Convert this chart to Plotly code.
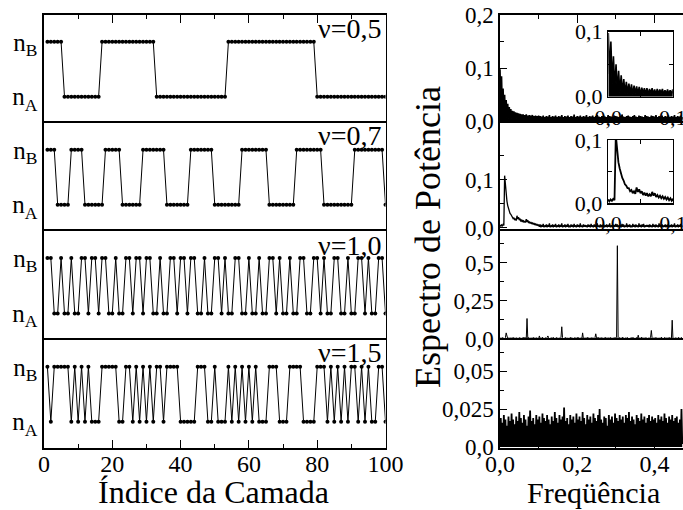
import plotly.graph_objects as go

W, H = 683, 510
FONT = "Liberation Serif, Times New Roman, DejaVu Serif, serif"

# ---------------- data: layer sequences (1 = n_B, 0 = n_A) ----------------
layer_index = list(range(1, 101))

seq_nu05 = [1,1,1,1,1,0,0,0,0,0,
            0,0,0,0,0,0,1,1,1,1,
            1,1,1,1,1,1,1,1,1,1,
            1,1,0,0,0,0,0,0,0,0,
            0,0,0,0,0,0,0,0,0,0,
            0,0,0,1,1,1,1,1,1,1,
            1,1,1,1,1,1,1,1,1,1,
            1,1,1,1,1,1,1,1,1,0,
            0,0,0,0,0,0,0,0,0,0,
            0,0,0,0,0,0,0,0,0,0]

seq_nu07 = [1,1,1,0,0,0,0,1,1,1,
            1,0,0,0,0,0,0,1,1,1,
            1,1,0,0,0,0,0,0,1,1,
            1,1,1,1,1,0,0,0,0,0,
            0,0,1,1,1,1,1,1,1,0,
            0,0,0,0,0,0,0,1,1,1,
            1,1,1,1,1,0,0,0,0,0,
            0,0,0,1,1,1,1,1,1,1,
            1,0,0,0,0,0,0,0,0,0,
            1,1,1,1,1,1,1,1,1,0]

seq_nu10 = [1,1,0,0,1,0,0,1,0,0,
            1,1,0,1,1,0,1,1,0,0,
            1,0,0,1,1,0,1,1,0,1,
            1,0,0,1,0,0,1,1,0,1,
            1,0,1,1,0,0,1,0,0,1,
            1,0,1,0,0,1,1,0,0,1,
            0,0,1,0,0,1,1,0,1,0,
            0,1,0,0,1,1,0,0,1,1,
            0,1,0,0,1,1,0,0,1,0,
            0,1,1,0,1,0,0,1,1,0]

seq_nu15 = [1,0,1,1,1,1,1,0,1,0,
            1,0,1,0,0,0,1,1,1,1,
            1,0,0,1,1,0,1,0,1,0,
            1,0,1,1,0,1,1,1,1,0,
            0,0,0,0,1,1,1,0,0,1,
            0,0,0,1,0,1,0,1,0,1,
            0,1,0,0,0,1,1,1,0,0,
            0,1,1,1,1,0,0,0,0,1,
            1,1,0,1,0,1,0,1,0,1,
            1,0,1,0,1,0,0,1,1,0]

nu_labels = ["ν=0,5", "ν=0,7", "ν=1,0", "ν=1,5"]
layer_ticks = [0, 20, 40, 60, 80, 100]

# ---------------- data: power spectra (frequency step 0.002) ----------------
freq_step = 0.002

spec_nu05 = [
    0.098, 0.035, 0.085, 0.020, 0.062, 0.012, 0.050, 0.008, 0.040, 0.006,
    0.033, 0.005, 0.027, 0.004, 0.023, 0.005, 0.020, 0.004, 0.019, 0.003,
    0.017, 0.005, 0.016, 0.004, 0.015, 0.003, 0.014, 0.005, 0.013, 0.004,
    0.013, 0.003, 0.012, 0.005, 0.013, 0.004, 0.011, 0.003, 0.012, 0.004,
    0.011, 0.005, 0.012, 0.003, 0.010, 0.004, 0.011, 0.003, 0.010, 0.004,
    0.011,
    0.003, 0.010, 0.002, 0.009, 0.004, 0.011, 0.003, 0.008, 0.002, 0.010, 0.004, 0.009, 0.003, 0.012, 0.002, 0.008, 0.003, 0.010, 0.004, 0.009,
    0.002, 0.011, 0.003, 0.008, 0.004, 0.010, 0.002, 0.009, 0.003, 0.012, 0.004, 0.008, 0.002, 0.010, 0.003, 0.009, 0.004, 0.011, 0.002, 0.008,
    0.003, 0.010, 0.004, 0.009, 0.002, 0.013, 0.003, 0.008, 0.004, 0.010, 0.002, 0.009, 0.003, 0.011, 0.004, 0.008, 0.002, 0.010, 0.003, 0.009,
    0.004, 0.012, 0.002, 0.008, 0.003, 0.010, 0.004, 0.009, 0.002, 0.011, 0.003, 0.008, 0.004, 0.010, 0.002, 0.012, 0.003, 0.009, 0.004, 0.008,
    0.002, 0.010, 0.003, 0.011, 0.004, 0.009, 0.002, 0.008, 0.003, 0.012, 0.004, 0.010, 0.002, 0.009, 0.003, 0.008, 0.004, 0.011, 0.002, 0.010,
    0.003, 0.009, 0.004, 0.008, 0.002, 0.010, 0.003, 0.013, 0.004, 0.009, 0.002, 0.008, 0.003, 0.010, 0.004, 0.011, 0.002, 0.009, 0.003, 0.008,
    0.004, 0.010, 0.002, 0.012, 0.003, 0.009, 0.004, 0.008, 0.002, 0.011, 0.003, 0.010, 0.004, 0.009, 0.002, 0.008, 0.003, 0.012, 0.004, 0.010,
    0.002, 0.009, 0.003, 0.008, 0.004, 0.011, 0.002, 0.010, 0.003, 0.009, 0.004, 0.012, 0.002, 0.008, 0.003, 0.010, 0.004, 0.009, 0.002, 0.011,
    0.003, 0.008, 0.004, 0.010, 0.002, 0.009, 0.003, 0.011, 0.004, 0.008, 0.002, 0.010, 0.003, 0.009, 0.004, 0.012, 0.002, 0.008, 0.003, 0.010,
    0.004, 0.009, 0.002, 0.011, 0.003, 0.008,
]

spec_nu07 = [
    0.006, 0.003, 0.006, 0.004, 0.007, 0.005, 0.108, 0.085, 0.065, 0.055,
    0.046, 0.040, 0.036, 0.030, 0.028, 0.024, 0.024, 0.019, 0.021, 0.016,
    0.019, 0.015, 0.025, 0.018, 0.022, 0.016, 0.019, 0.013, 0.017, 0.012,
    0.016, 0.011, 0.014, 0.011, 0.018, 0.012, 0.016, 0.010, 0.013, 0.009,
    0.012, 0.008, 0.011, 0.007, 0.010, 0.006, 0.009, 0.005, 0.008, 0.004,
    0.007,
    0.002, 0.007, 0.001, 0.006, 0.002, 0.008, 0.001, 0.005, 0.002, 0.007, 0.001, 0.006, 0.002, 0.009, 0.001, 0.005, 0.002, 0.007, 0.001, 0.006,
    0.002, 0.008, 0.001, 0.005, 0.002, 0.007, 0.001, 0.006, 0.002, 0.009, 0.001, 0.005, 0.002, 0.007, 0.001, 0.006, 0.002, 0.008, 0.001, 0.005,
    0.001, 0.007, 0.002, 0.006, 0.001, 0.008, 0.002, 0.005, 0.001, 0.007, 0.002, 0.006, 0.001, 0.009, 0.002, 0.005, 0.001, 0.007, 0.002, 0.006,
    0.002, 0.005, 0.001, 0.007, 0.002, 0.006, 0.001, 0.008, 0.002, 0.005, 0.001, 0.007, 0.002, 0.006, 0.001, 0.009, 0.002, 0.005, 0.001, 0.007,
    0.001, 0.006, 0.002, 0.008, 0.001, 0.005, 0.002, 0.007, 0.001, 0.006, 0.002, 0.009, 0.001, 0.005, 0.002, 0.007, 0.001, 0.006, 0.002, 0.008,
    0.002, 0.007, 0.001, 0.005, 0.002, 0.006, 0.001, 0.008, 0.002, 0.007, 0.001, 0.005, 0.002, 0.009, 0.001, 0.006, 0.002, 0.007, 0.001, 0.005,
    0.001, 0.008, 0.002, 0.006, 0.001, 0.007, 0.002, 0.005, 0.001, 0.009, 0.002, 0.006, 0.001, 0.007, 0.002, 0.008, 0.001, 0.005, 0.002, 0.006,
    0.002, 0.006, 0.001, 0.007, 0.002, 0.005, 0.001, 0.008, 0.002, 0.006, 0.001, 0.007, 0.002, 0.005, 0.001, 0.009, 0.002, 0.006, 0.001, 0.007,
    0.001, 0.005, 0.002, 0.007, 0.001, 0.006, 0.002, 0.008, 0.001, 0.005, 0.002, 0.007, 0.001, 0.006, 0.002, 0.009, 0.001, 0.005, 0.002, 0.007,
    0.001, 0.006, 0.002, 0.008, 0.001, 0.005,
]

spec_nu10_noise = [
    0.002, 0.008, 0.001, 0.010, 0.003, 0.007, 0.002, 0.009, 0.001, 0.012, 0.002, 0.006, 0.003, 0.009, 0.001, 0.008, 0.002, 0.011, 0.001, 0.007,
    0.003, 0.009, 0.001, 0.006, 0.002, 0.010, 0.001, 0.008, 0.003, 0.007, 0.002, 0.012, 0.001, 0.009, 0.002, 0.006, 0.003, 0.010, 0.001, 0.008,
    0.002, 0.007, 0.001, 0.011, 0.003, 0.008, 0.002, 0.009, 0.001, 0.006, 0.002, 0.010, 0.003, 0.008, 0.001, 0.012, 0.002, 0.007, 0.001, 0.009,
    0.003, 0.010, 0.002, 0.008, 0.001, 0.006, 0.002, 0.009, 0.003, 0.011, 0.001, 0.007, 0.002, 0.010, 0.001, 0.008, 0.003, 0.006, 0.002, 0.012,
    0.001, 0.009, 0.002, 0.007, 0.003, 0.010, 0.001, 0.008, 0.002, 0.006, 0.001, 0.011, 0.003, 0.009, 0.002, 0.007, 0.001, 0.010, 0.002, 0.008,
    0.003, 0.012, 0.001, 0.006, 0.002, 0.009, 0.001, 0.010, 0.003, 0.007, 0.002, 0.008, 0.001, 0.011, 0.002, 0.009, 0.003, 0.006, 0.001, 0.010,
    0.002, 0.008, 0.001, 0.009, 0.003, 0.007, 0.002, 0.012, 0.001, 0.008, 0.002, 0.010, 0.003, 0.006, 0.001, 0.009, 0.002, 0.011, 0.001, 0.007,
    0.003, 0.009, 0.002, 0.010, 0.001, 0.008, 0.002, 0.006, 0.003, 0.011, 0.001, 0.009, 0.002, 0.007, 0.001, 0.010, 0.003, 0.008, 0.002, 0.012,
    0.001, 0.007, 0.002, 0.009, 0.003, 0.010, 0.001, 0.006, 0.002, 0.008, 0.001, 0.011, 0.003, 0.009, 0.002, 0.007, 0.001, 0.010, 0.002, 0.008,
    0.003, 0.006, 0.001, 0.012, 0.002, 0.009, 0.001, 0.008, 0.003, 0.010, 0.002, 0.007, 0.001, 0.009, 0.002, 0.011, 0.003, 0.006, 0.001, 0.008,
    0.002, 0.010, 0.001, 0.009, 0.003, 0.007, 0.002, 0.008, 0.001, 0.012, 0.002, 0.006, 0.003, 0.010, 0.001, 0.009, 0.002, 0.007, 0.001, 0.011,
    0.003, 0.008, 0.002, 0.010, 0.001, 0.006, 0.002, 0.009, 0.003, 0.007, 0.001, 0.011, 0.002, 0.008, 0.001, 0.010, 0.003,
]
peaks_nu10_freq = [0.016, 0.070, 0.102, 0.124, 0.160, 0.214, 0.248, 0.304, 0.358, 0.392, 0.446]
peaks_nu10_height = [0.040, 0.134, 0.020, 0.020, 0.080, 0.040, 0.034, 0.610, 0.025, 0.056, 0.123]

spec_nu15 = [
    0.002, 0.019, 0.001, 0.016, 0.003, 0.021, 0.001, 0.018, 0.002, 0.014, 0.001, 0.020, 0.003, 0.017, 0.001, 0.022, 0.002, 0.018, 0.001, 0.015,
    0.003, 0.020, 0.001, 0.017, 0.002, 0.023, 0.001, 0.019, 0.003, 0.016, 0.001, 0.021, 0.002, 0.018, 0.001, 0.014, 0.003, 0.020, 0.001, 0.024,
    0.002, 0.017, 0.001, 0.019, 0.003, 0.015, 0.001, 0.021, 0.002, 0.018, 0.001, 0.020, 0.003, 0.016, 0.001, 0.022, 0.002, 0.019, 0.001, 0.017,
    0.003, 0.021, 0.001, 0.018, 0.002, 0.015, 0.001, 0.020, 0.003, 0.017, 0.001, 0.023, 0.002, 0.019, 0.001, 0.016, 0.003, 0.021, 0.001, 0.018,
    0.002, 0.020, 0.001, 0.026, 0.003, 0.017, 0.001, 0.019, 0.002, 0.015, 0.001, 0.021, 0.003, 0.018, 0.001, 0.020, 0.002, 0.016, 0.001, 0.022,
    0.003, 0.018, 0.001, 0.020, 0.002, 0.017, 0.001, 0.023, 0.003, 0.019, 0.001, 0.015, 0.002, 0.021, 0.001, 0.018, 0.003, 0.020, 0.001, 0.016,
    0.002, 0.022, 0.001, 0.019, 0.003, 0.017, 0.001, 0.021, 0.002, 0.025, 0.001, 0.018, 0.003, 0.016, 0.001, 0.020, 0.002, 0.019, 0.001, 0.014,
    0.003, 0.021, 0.001, 0.018, 0.002, 0.020, 0.001, 0.016, 0.003, 0.022, 0.001, 0.019, 0.002, 0.017, 0.001, 0.021, 0.003, 0.018, 0.001, 0.020,
    0.002, 0.016, 0.001, 0.021, 0.003, 0.019, 0.001, 0.023, 0.002, 0.017, 0.001, 0.020, 0.003, 0.018, 0.001, 0.015, 0.002, 0.021, 0.001, 0.019,
    0.003, 0.017, 0.001, 0.022, 0.002, 0.018, 0.001, 0.020, 0.003, 0.016, 0.001, 0.019, 0.002, 0.021, 0.001, 0.017, 0.003, 0.020, 0.001, 0.018,
    0.002, 0.019, 0.001, 0.016, 0.003, 0.021, 0.001, 0.018, 0.002, 0.020, 0.001, 0.017, 0.003, 0.022, 0.001, 0.019, 0.002, 0.016, 0.001, 0.020,
    0.003, 0.018, 0.001, 0.021, 0.002, 0.017, 0.001, 0.019, 0.003, 0.020, 0.001, 0.016, 0.002, 0.018, 0.001, 0.025, 0.002,
]

spec_nu10 = list(spec_nu10_noise)
for f, v in zip(peaks_nu10_freq, peaks_nu10_height):
    spec_nu10[round(f / freq_step)] = v


def freqs(vals):
    return [round(freq_step * k, 4) for k in range(len(vals))]


# ---------------- layout geometry ----------------
rows_px = [(15, 123), (123, 231), (231, 340), (340, 448)]


def ydom(t, b):
    return [1 - b / H, 1 - t / H]


left_dom = [44 / W, 385.5 / W]
right_dom = [500 / W, 1.0]
LW = 1.6


def sfx(n):
    return "" if n == 1 else str(n)


fig = go.Figure()

seqs = [seq_nu05, seq_nu07, seq_nu10, seq_nu15]
for i, s in enumerate(seqs):
    n = i + 1
    fig.add_trace(go.Scatter(
        x=layer_index, y=s, mode="lines+markers",
        line=dict(color="black", width=1),
        marker=dict(color="black", size=4),
        xaxis="x" + sfx(n), yaxis="y" + sfx(n), showlegend=False))

specs = [spec_nu05, spec_nu07, spec_nu10, spec_nu15]
filled = [True, False, False, True]
widths = [1.6, 1.3, 1.0, 1.8]
for j, s in enumerate(specs):
    n = 5 + j
    fig.add_trace(go.Scatter(
        x=freqs(s), y=s, mode="lines",
        line=dict(color="black", width=widths[j]),
        fill="tozeroy" if filled[j] else None, fillcolor="black",
        xaxis="x" + sfx(n), yaxis="y" + sfx(n), showlegend=False))

for n, s, fl, wd in [(9, spec_nu05, True, 1.6), (10, spec_nu07, False, 1.8)]:
    fig.add_trace(go.Scatter(
        x=freqs(s), y=s, mode="lines",
        line=dict(color="black", width=wd),
        fill="tozeroy" if fl else None, fillcolor="black",
        xaxis="x" + sfx(n), yaxis="y" + sfx(n), showlegend=False))

base = dict(showline=True, linecolor="black", linewidth=LW, showgrid=False,
            zeroline=False, ticks="", tickcolor="black", tickwidth=1,
            automargin=False, fixedrange=True)
lay = {}


def x_panel(row, dom, rng, tv, tt, minor_tv, font_size):
    xa = dict(base, domain=dom, range=rng, tickvals=tv, ticktext=tt,
              showticklabels=False, tickfont=dict(size=font_size))
    mnr = dict(tickvals=minor_tv, ticks="inside", ticklen=4, tickcolor="black")
    if row < 3:
        # line drawn on top edge only (avoids doubled separators)
        xa.update(side="top", mirror=False)
        if row == 0:
            xa.update(ticks="inside", ticklen=8, minor=mnr)
    else:
        xa.update(side="bottom", mirror=True, ticks="inside", ticklen=8,
                  showticklabels=True, minor=mnr, ticklabelstandoff=-6)
    return xa


for i in range(4):
    n = i + 1
    xa = x_panel(i, left_dom, [0, 100], layer_ticks, [str(v) for v in layer_ticks],
                 [10, 30, 50, 70, 90], 24)
    xa["anchor"] = "y" + sfx(n)
    ya = dict(base, domain=ydom(*rows_px[i]), range=[-0.48, 1.49],
              anchor="x" + sfx(n), mirror=True, tickvals=[0, 1],
              ticktext=["n<sub>A</sub>", "n<sub>B</sub>"],
              tickfont=dict(size=25))
    lay["xaxis" + sfx(n)] = xa
    lay["yaxis" + sfx(n)] = ya

right_y = [
    dict(range=[-0.003, 0.2], tickvals=[0, 0.1, 0.2], ticktext=["0,0", "0,1", "0,2"], minor=[0.05, 0.15]),
    dict(range=[-0.0066, 0.217], tickvals=[0, 0.1], ticktext=["0,0", "0,1"], minor=[0.05, 0.15]),
    dict(range=[-0.0065, 0.706], tickvals=[0, 0.25, 0.5], ticktext=["0,0", "0,25", "0,5"], minor=[0.125, 0.375, 0.625]),
    dict(range=[-0.0007, 0.0705], tickvals=[0, 0.025, 0.05], ticktext=["0,0", "0,025", "0,05"], minor=[0.0125, 0.0375, 0.0625]),
]
for j in range(4):
    n = 5 + j
    xa = x_panel(j, right_dom, [0, 0.474], [0, 0.2, 0.4], ["0,0", "0,2", "0,4"],
                 [0.1, 0.3], 24)
    xa["anchor"] = "y" + sfx(n)
    r = right_y[j]
    ya = dict(base, domain=ydom(*rows_px[j]), range=r["range"], anchor="x" + sfx(n),
              mirror=False, ticks="inside", ticklen=7, tickvals=r["tickvals"],
              ticktext=r["ticktext"], tickfont=dict(size=23),
              minor=dict(tickvals=r["minor"], ticks="inside", ticklen=4, tickcolor="black"))
    lay["xaxis" + sfx(n)] = xa
    lay["yaxis" + sfx(n)] = ya

insets = {9: ([608.3, 672.7], [31.7, 96.7]), 10: ([608.0, 673.0], [140.0, 203.3])}
for n, (xp, yp) in insets.items():
    common = dict(base, linewidth=1.4, range=[0, 0.1], mirror="allticks", ticks="inside",
                  ticklen=5, tickvals=[0, 0.1], ticktext=["0,0", "0,1"],
                  tickfont=dict(size=22), ticklabeloverflow="allow",
                  minor=dict(tickvals=[0.05], ticks="inside", ticklen=4, tickcolor="black"))
    lay["xaxis" + sfx(n)] = dict(common, domain=[xp[0] / W, xp[1] / W], anchor="y" + sfx(n))
    lay["yaxis" + sfx(n)] = dict(common, domain=ydom(yp[0], yp[1]), anchor="x" + sfx(n))

annotations = []
nu_y = [28.5, 136, 245, 352.5]
for lbl, yp in zip(nu_labels, nu_y):
    annotations.append(dict(text=lbl, x=383 / W, y=1 - yp / H, xref="paper", yref="paper",
                            xanchor="right", yanchor="middle", showarrow=False,
                            font=dict(size=28)))
annotations.append(dict(text="Índice da Camada", x=213 / W, y=1 - 492 / H, xref="paper",
                        yref="paper", xanchor="center", yanchor="middle", showarrow=False,
                        font=dict(size=32)))
annotations.append(dict(text="Freqüência", x=593 / W, y=1 - 492 / H, xref="paper",
                        yref="paper", xanchor="center", yanchor="middle", showarrow=False,
                        font=dict(size=30)))
annotations.append(dict(text="Espectro de Potência", x=428 / W, y=1 - 237 / H, xref="paper",
                        yref="paper", xanchor="center", yanchor="middle", showarrow=False,
                        textangle=-90, font=dict(size=36)))

fig.update_layout(
    template="none",
    width=W, height=H,
    margin=dict(l=0, r=0, t=0, b=0),
    paper_bgcolor="white", plot_bgcolor="white",
    font=dict(family=FONT, color="black", size=22),
    showlegend=False,
    annotations=annotations,
    **lay,
)

fig.write_html(
    "out.html",
    config={"displayModeBar": False, "staticPlot": True},
    post_script="document.body.style.margin='0px';document.body.style.padding='0px';"
                "document.body.style.overflow='hidden';",
)
